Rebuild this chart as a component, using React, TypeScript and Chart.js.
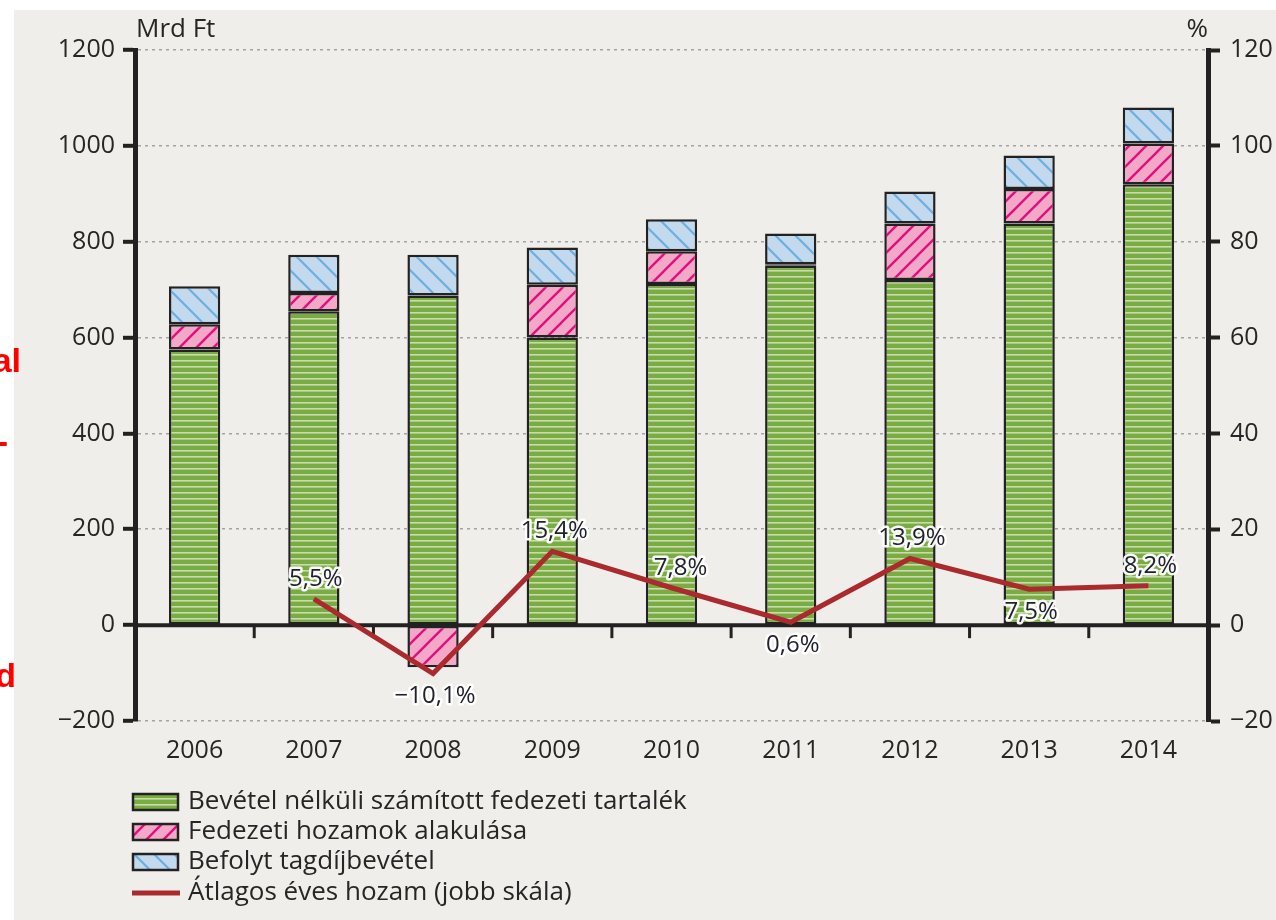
import React, { useEffect, useRef } from "react";
import { Chart, registerables } from "chart.js";

Chart.register(...registerables);

// ---- data ----
const years = ["2006", "2007", "2008", "2009", "2010", "2011", "2012", "2013", "2014"];
const reserveNoIncome = [575, 655, 688, 600, 712, 750, 720, 838, 920];
const yieldChange = [53, 38, -88, 110, 68, 3, 118, 72, 85];
const contributions = [79, 80, 85, 78, 67, 64, 67, 70, 75];
const avgReturn = [null, 5.5, -10.1, 15.4, 7.8, 0.6, 13.9, 7.5, 8.2];
const returnLabels = ["", "5,5%", "\u221210,1%", "15,4%", "7,8%", "0,6%", "13,9%", "7,5%", "8,2%"];
const labelAbove = [true, true, false, true, true, false, true, false, true];
const seriesNames = [
  "Bevétel nélküli számított fedezeti tartalék",
  "Fedezeti hozamok alakulása",
  "Befolyt tagdíjbevétel",
  "Átlagos éves hozam (jobb skála)",
];
const leftAxisTitle = "Mrd Ft";
const rightAxisTitle = "%";

const FONT = "'Open Sans', Lato, sans-serif";
const TEXT = "#262626";
const LINE_RED = "#ab2a2e";

const fmtTick = (v: number) => (v < 0 ? "\u2212" + Math.abs(v) : String(v));

function makePattern(kind: string): CanvasPattern | string {
  const c = document.createElement("canvas");
  const ctx = c.getContext("2d");
  if (!ctx) return "#888";
  if (kind === "green") {
    c.width = 8;
    c.height = 6;
    ctx.fillStyle = "#7aac45";
    ctx.fillRect(0, 0, 8, 6);
    ctx.fillStyle = "#c9dda9";
    ctx.fillRect(0, 0, 8, 1.6);
  } else if (kind === "pink") {
    const s = 17;
    c.width = s;
    c.height = s;
    ctx.fillStyle = "#f4a8c8";
    ctx.fillRect(0, 0, s, s);
    ctx.strokeStyle = "#e0107f";
    ctx.lineWidth = 2.4;
    for (const k of [0, s, 2 * s]) {
      ctx.beginPath();
      ctx.moveTo(k - s - 2, s + 2);
      ctx.lineTo(k + 2, -2);
      ctx.stroke();
    }
  } else {
    const s = 20;
    c.width = s;
    c.height = s;
    ctx.fillStyle = "#c2d9ee";
    ctx.fillRect(0, 0, s, s);
    ctx.strokeStyle = "#6eaedf";
    ctx.lineWidth = 2.2;
    for (const k of [-s, 0, s]) {
      ctx.beginPath();
      ctx.moveTo(k - 2, -2);
      ctx.lineTo(k + s + 2, s + 2);
      ctx.stroke();
    }
  }
  const p = ctx.createPattern(c, "repeat");
  return p || "#888";
}

export default function App() {
  const ref = useRef<HTMLCanvasElement | null>(null);

  useEffect(() => {
    const canvas = ref.current;
    if (!canvas) return;
    const green = makePattern("green");
    const pink = makePattern("pink");
    const blue = makePattern("blue");
    const fills = [green, pink, blue];

    const decorations = {
      id: "decorations",
      beforeDatasetsDraw(chart: any) {
        const { ctx, chartArea, scales } = chart;
        const y0 = scales.y.getPixelForValue(0);
        ctx.save();
        ctx.strokeStyle = "#222";
        ctx.lineWidth = 4;
        ctx.beginPath();
        ctx.moveTo(chartArea.left, y0);
        ctx.lineTo(chartArea.right, y0);
        ctx.stroke();
        ctx.lineWidth = 3;
        for (let i = 1; i < years.length; i++) {
          const x = (scales.x.getPixelForValue(i - 1) + scales.x.getPixelForValue(i)) / 2;
          ctx.beginPath();
          ctx.moveTo(x, y0);
          ctx.lineTo(x, y0 + 13);
          ctx.stroke();
        }
        ctx.restore();
      },
      afterDatasetsDraw(chart: any) {
        const { ctx, scales } = chart;
        ctx.save();
        ctx.font = "24px " + FONT;
        ctx.textAlign = "center";
        ctx.textBaseline = "middle";
        ctx.lineJoin = "round";
        for (let i = 0; i < years.length; i++) {
          const v = avgReturn[i];
          if (v === null || !returnLabels[i]) continue;
          const x = scales.x.getPixelForValue(i) + (i === 4 ? 9 : 2);
          const py = scales.y1.getPixelForValue(v);
          const y = labelAbove[i] ? py - 20 : py + 23;
          ctx.strokeStyle = "rgba(255,255,255,0.95)";
          ctx.lineWidth = 5;
          ctx.strokeText(returnLabels[i], x, y);
          ctx.fillStyle = "#22222e";
          ctx.fillText(returnLabels[i], x, y);
        }
        ctx.restore();
      },
      afterDraw(chart: any) {
        const { ctx, chartArea } = chart;
        ctx.save();
        ctx.font = "26px " + FONT;
        ctx.fillStyle = TEXT;
        ctx.textBaseline = "middle";
        ctx.textAlign = "left";
        ctx.fillText(leftAxisTitle, chartArea.left + 1, 30);
        ctx.textAlign = "right";
        ctx.fillText(rightAxisTitle, chartArea.right, 30);
        // legend
        const lx = 133;
        const rows = [802, 832, 862, 893];
        ctx.font = "26px " + FONT;
        ctx.textAlign = "left";
        for (let i = 0; i < 3; i++) {
          const cy = rows[i];
          ctx.fillStyle = fills[i] as any;
          ctx.fillRect(lx, cy - 8, 45, 16);
          ctx.strokeStyle = "#222";
          ctx.lineWidth = 2.5;
          ctx.strokeRect(lx, cy - 8, 45, 16);
          ctx.fillStyle = TEXT;
          ctx.fillText(seriesNames[i], 188, cy);
        }
        ctx.strokeStyle = LINE_RED;
        ctx.lineWidth = 5;
        ctx.beginPath();
        ctx.moveTo(132, rows[3]);
        ctx.lineTo(180, rows[3]);
        ctx.stroke();
        ctx.fillStyle = TEXT;
        ctx.fillText(seriesNames[3], 188, rows[3]);
        ctx.restore();
      },
    };

    const barCommon = {
      type: "bar" as const,
      yAxisID: "y",
      stack: "s",
      borderColor: "#222",
      borderWidth: 2.5,
      borderSkipped: false,
      barPercentage: 0.43,
      categoryPercentage: 1,
      order: 1,
    };

    const chart = new Chart(canvas, {
      type: "bar",
      data: {
        labels: years,
        datasets: [
          { ...barCommon, label: seriesNames[0], data: reserveNoIncome, backgroundColor: green },
          { ...barCommon, label: seriesNames[1], data: yieldChange, backgroundColor: pink },
          { ...barCommon, label: seriesNames[2], data: contributions, backgroundColor: blue },
          {
            type: "line",
            label: seriesNames[3],
            data: avgReturn,
            yAxisID: "y1",
            borderColor: LINE_RED,
            borderWidth: 5,
            pointRadius: 0,
            tension: 0,
            order: 0,
          } as any,
        ],
      },
      options: {
        responsive: false,
        animation: false,
        layout: { padding: { top: 50, left: 0, right: 0, bottom: 0 } },
        plugins: { legend: { display: false }, tooltip: { enabled: false } },
        scales: {
          x: {
            stacked: true,
            grid: { display: false, drawTicks: false },
            border: { display: false },
            ticks: { font: { family: FONT, size: 25 }, color: TEXT, padding: 15 },
            afterFit: (s: any) => {
              s.height = 199;
            },
          },
          y: {
            stacked: true,
            position: "left",
            min: -200,
            max: 1200,
            ticks: {
              stepSize: 200,
              font: { family: FONT, size: 25 },
              color: TEXT,
              padding: 8,
              callback: (v: any) => fmtTick(Number(v)),
            },
            grid: {
              color: (c: any) => (c.tick && c.tick.value === 0 ? "rgba(0,0,0,0)" : "#a3a3a3"),
              lineWidth: 1.6,
              tickColor: "#222",
              tickWidth: 4,
              tickLength: 12,
            },
            border: { display: true, color: "#222", width: 5, dash: [3, 4] },
            afterFit: (s: any) => {
              s.width = 135;
            },
          },
          y1: {
            position: "right",
            min: -20,
            max: 120,
            ticks: {
              stepSize: 20,
              font: { family: FONT, size: 25 },
              color: TEXT,
              padding: 10,
              callback: (v: any) => fmtTick(Number(v)),
            },
            grid: {
              drawOnChartArea: false,
              tickColor: "#222",
              tickWidth: 4,
              tickLength: 12,
            },
            border: { display: true, color: "#222", width: 5 },
            afterFit: (s: any) => {
              s.width = 68;
            },
          },
        },
      } as any,
      plugins: [decorations],
    });
    return () => chart.destroy();
  }, []);

  const red: React.CSSProperties = {
    position: "absolute",
    color: "#ff0000",
    fontFamily: "'Liberation Sans', Arial, sans-serif",
    fontWeight: "bold",
    fontSize: 34,
    lineHeight: "34px",
    whiteSpace: "nowrap",
    zIndex: 2,
  };

  return (
    <div
      style={{
        position: "fixed",
        left: 0,
        top: 0,
        width: 1276,
        height: 920,
        background: "#ffffff",
        overflow: "hidden",
      }}
    >
      <div
        style={{
          position: "absolute",
          left: 14,
          top: 10,
          width: 1262,
          height: 910,
          background: "#f0eeea",
        }}
      />
      <span style={{ ...red, right: 1276 - 21, top: 343 }}>al</span>
      <span style={{ ...red, right: 1276 - 8, top: 424 }}>-</span>
      <span style={{ ...red, right: 1276 - 16, top: 658 }}>d</span>
      <canvas
        ref={ref}
        width={1276}
        height={920}
        style={{ position: "absolute", left: 0, top: 0, width: 1276, height: 920, zIndex: 1 }}
      />
    </div>
  );
}
